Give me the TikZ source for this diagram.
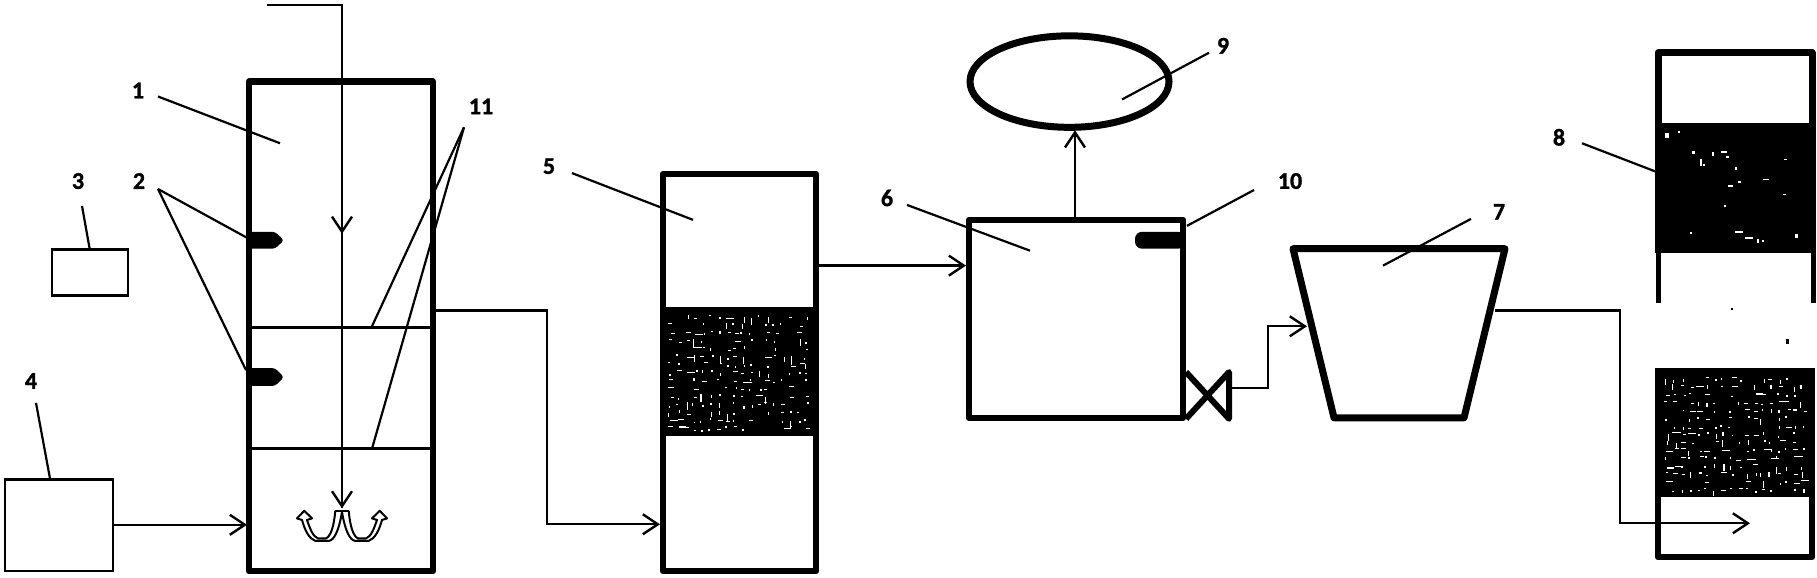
\documentclass[tikz,border=0pt]{standalone}
\usepackage{fontspec}
\setmainfont{Carlito}
\newfontfamily\numfont[FakeBold=1.2]{Carlito}
\usetikzlibrary{arrows.meta,shapes.geometric}
\newcommand{\speckfield}[4]{%
  \pgfmathsetmacro\xnx{#1+8}\pgfmathsetmacro\ynx{#2+8}%
  \foreach \xx in {#1,\xnx,...,#3}{\foreach \yy in {#2,\ynx,...,#4}{%
    \pgfmathsetmacro\pick{rnd}%
    \pgfmathsetmacro\ox{\xx+4*rnd}\pgfmathsetmacro\oy{\yy+4*rnd}%
    \pgfmathsetmacro\ln{2+8*rnd*rnd}%
    \ifdim\pick pt<0.30pt
      \fill[white] (\ox,\oy) rectangle ++(\ln,1.1);
    \else\ifdim\pick pt<0.56pt
      \fill[white] (\ox,\oy) rectangle ++(1.1,\ln);
    \else\ifdim\pick pt<0.68pt
      \fill[white] (\ox,\oy) rectangle ++(1.8,1.8);
    \fi\fi\fi
  }}%
}
\tikzset{
  x=1pt,y=-0.9948pt,
  label text/.style={font=\numfont\bfseries\fontsize{24}{24}\selectfont,inner sep=0pt,outer sep=0pt,text=black},
  vessel/.style={draw=black,line width=6.5pt,inner sep=0pt,outer sep=0pt,rectangle,line join=round},
  thin box/.style={draw=black,line width=2.6pt,inner sep=0pt,outer sep=0pt,rectangle},
  leader/.style={draw=black,line width=2.2pt},
  flow/.style={draw=black,line width=2.4pt,-{Straight Barb[length=15pt,width=20pt,line width=2.4pt]}},
  pipe/.style={draw=black,line width=2.4pt},
  blade/.style={draw=black,line width=2pt,line join=round},
}
\begin{document}
\begin{tikzpicture}
\useasboundingbox (0,0) rectangle (1817,581);
\fill[white] (0,0) rectangle (1817,581);

% filter beds (under the vessel walls)
\fill[black] (660,308.5) rectangle (819,438);
\pgfmathsetseed{17}
\speckfield{668}{316}{806}{428}
\fill[black] (1655,124) rectangle (1815,254);
\fill[black] (1655,370) rectangle (1815,500);
\pgfmathsetseed{41}
\speckfield{1664}{378}{1802}{492}

% vessels
\node[vessel,minimum width=184pt,minimum height=489.4pt] (box1) at (341,328) {};
\node[thin box,minimum width=76pt,minimum height=45.8pt] (box3) at (90,274) {};
\node[thin box,minimum width=108pt,minimum height=91.5pt] (box4) at (59,528) {};
\node[vessel,minimum width=153pt,minimum height=397pt] (box5) at (739.5,374.5) {};
\node[vessel,minimum width=214pt,minimum height=198pt] (box6) at (1076,320.5) {};
\node[draw=black,line width=7pt,ellipse,inner sep=0pt,outer sep=0pt,minimum width=199pt,minimum height=91.5pt] (tank9) at (1069.5,82) {};

% trapezoid 7
\coordinate (t1) at (1293,250);
\coordinate (t2) at (1505,250);
\coordinate (t3) at (1464,420);
\coordinate (t4) at (1334,420);
\draw[line width=7pt,line join=round] (t1) -- (t2) -- (t3) -- (t4) -- cycle;

% vessel 8
\coordinate (e1) at (1658,53);
\coordinate (e2) at (1812,53);
\coordinate (e3) at (1812,254);
\coordinate (e4) at (1658,254);
\draw[line width=7pt,line join=round] (e4) -- (e1) -- (e2) -- (e3);
\draw[line width=5pt] (1658,250) -- (1658,305);
\draw[line width=5pt] (1813,250) -- (1813,305);
\draw[line width=6.5pt,line join=round] (1658,372) -- (1658,560) -- (1812,560) -- (1812,372);
\foreach \px/\py/\pw/\ph in {1665/134/4/5,1678/132/2/2,1692/152/3/3,1700/160/2/7,1703/165/2/2,1712/153/2/4,1721/152/6/2,1726/157/3/2,1735/168/2/3,1728/186/5/2,1738/182/3/2,1763/180/6/1,1784/160/3/1,1783/195/3/1,1724/206/2/2,1690/233/2/2,1735/232/8/2,1745/238/8/2,1757/240/2/4,1762/241/2/2,1795/235/3/4}{
  \fill[white] (\px,\py) rectangle ++(\pw,\ph);
}
\fill[black] (1731,310) rectangle ++(2,2);
\fill[black] (1786,341) rectangle ++(2.5,5);

% partitions in vessel 1
\coordinate (w1) at (249,329);
\coordinate (w2) at (433,329);
\coordinate (w3) at (249,451);
\coordinate (w4) at (433,451);
\draw[line width=2.8pt] (w1) -- (w2);
\draw[line width=2.8pt] (w3) -- (w4);

% probes
\coordinate (s1) at (247,233);
\coordinate (s2) at (247,370);
\fill[rounded corners=3pt] (s1) -- ++(28,0) -- ++(9,8.5) -- ++(-9,8.5) -- ++(-28,0) -- cycle;
\fill[rounded corners=3pt] (s2) -- ++(28,0) -- ++(9,9) -- ++(-9,9) -- ++(-28,0) -- cycle;
\coordinate (s3) at (1185,233);
\fill[rounded corners=7pt] (s3) -- ++(-50,0) -- ++(0,17) -- ++(50,0) -- cycle;

% stirrer rod and arrows
\coordinate (r0) at (267,5);
\coordinate (r1) at (342,5);
\coordinate (r2) at (342,235);
\coordinate (r3) at (342,511);
\draw[pipe] (r0) -- (r1) -- (r3);
\draw[flow] (r1) -- (r2);
\draw[flow] (r2) -- (r3);

% blades
\begin{scope}[shift={(342,513.4)}]
  \foreach \m in {1,-1}{
    \begin{scope}[xscale=\m]
      \draw[blade] (-7,0) -- (0,0);
      \draw[blade] (0,1) .. controls (-3,20) and (-8,30) .. (-13.3,30.3) -- (-26.7,30.3)
        .. controls (-33,28) and (-37,20) .. (-40,9.3) -- (-45,7.7) -- (-37.7,0) -- (-30,7.7) -- (-35,9.3)
        .. controls (-32,18) and (-29,26) .. (-24.3,27.7) -- (-15.7,27.7)
        .. controls (-11,25) and (-8,15) .. (-6.7,0);
    \end{scope}
  }
\end{scope}

% valve
\coordinate (v1) at (1186,374);
\coordinate (v2) at (1229,421);
\coordinate (v3) at (1229,374);
\coordinate (v4) at (1186,421);
\draw[line width=6pt,line join=round] (v1) -- (v2) -- (v3) -- (v4);

% connectors
\coordinate (a1) at (box4.east);
\coordinate (a2) at (247,527.5);
\draw[flow] (a1 |- a2) -- (a2);

\coordinate (b1) at (436,312);
\coordinate (b2) at (547,312);
\coordinate (b3) at (660,527);
\draw[flow] (b1) -- (b2) |- (b3);

\coordinate (c1) at (819,267);
\coordinate (c2) at (966,267);
\draw[flow] (c1) -- (c2);

\coordinate (d1) at (1075,221);
\coordinate (d2) at (1075,131);
\draw[flow] (d1) -- (d2);

\coordinate (f1) at (1232,390);
\coordinate (f2) at (1268,390);
\coordinate (f3) at (1307,328);
\draw[flow] (f1) -- (f2) |- (f3);

\coordinate (g1) at (1495,312);
\coordinate (g2) at (1620,312);
\coordinate (g3) at (1750,526);
\draw[flow] (g1) -- (g2) |- (g3);

% labels
\node[label text] (n1) at (138,91) {1};
\node[label text] (n2) at (139,182) {2};
\node[label text] (n3) at (78,182) {3};
\node[label text] (n4) at (31,383) {4};
\node[label text] (n5) at (549,167) {5};
\node[label text] (n6) at (887,199) {6};
\node[label text] (n7) at (1499,213) {7};
\node[label text] (n8) at (1559,138) {8};
\node[label text] (n9) at (1223,46) {9};
\node[label text] (n10) at (1290,182) {10};
\node[label text] (n11) at (481,107) {11};

% leaders
\coordinate (l1a) at (158,97);   \coordinate (l1b) at (280,144);
\coordinate (l2a) at (158,190);  \coordinate (l2b) at (247,239); \coordinate (l2c) at (246,372);
\coordinate (l3a) at (82,207);   \coordinate (l3b) at (90,252);
\coordinate (l4a) at (36,405);   \coordinate (l4b) at (50,481);
\coordinate (l5a) at (572,174);  \coordinate (l5b) at (693,221);
\coordinate (l6a) at (907,206);  \coordinate (l6b) at (1030,252);
\coordinate (l7a) at (1471,220); \coordinate (l7b) at (1383,267);
\coordinate (l8a) at (1582,144); \coordinate (l8b) at (1657,173);
\coordinate (l9a) at (1209,53);  \coordinate (l9b) at (1122,100);
\coordinate (l10a) at (1254,191); \coordinate (l10b) at (1187,227);
\coordinate (l11a) at (464,128); \coordinate (l11b) at (372,328); \coordinate (l11c) at (372,451);
\draw[leader] (l1a) -- (l1b);
\draw[leader] (l2a) -- (l2b);
\draw[leader] (l2a) -- (l2c);
\draw[leader] (l3a) -- (l3b);
\draw[leader] (l4a) -- (l4b);
\draw[leader] (l5a) -- (l5b);
\draw[leader] (l6a) -- (l6b);
\draw[leader] (l7a) -- (l7b);
\draw[leader] (l8a) -- (l8b);
\draw[leader] (l9a) -- (l9b);
\draw[leader] (l10a) -- (l10b);
\draw[leader] (l11a) -- (l11b);
\draw[leader] (l11a) -- (l11c);
\end{tikzpicture}
\end{document}
